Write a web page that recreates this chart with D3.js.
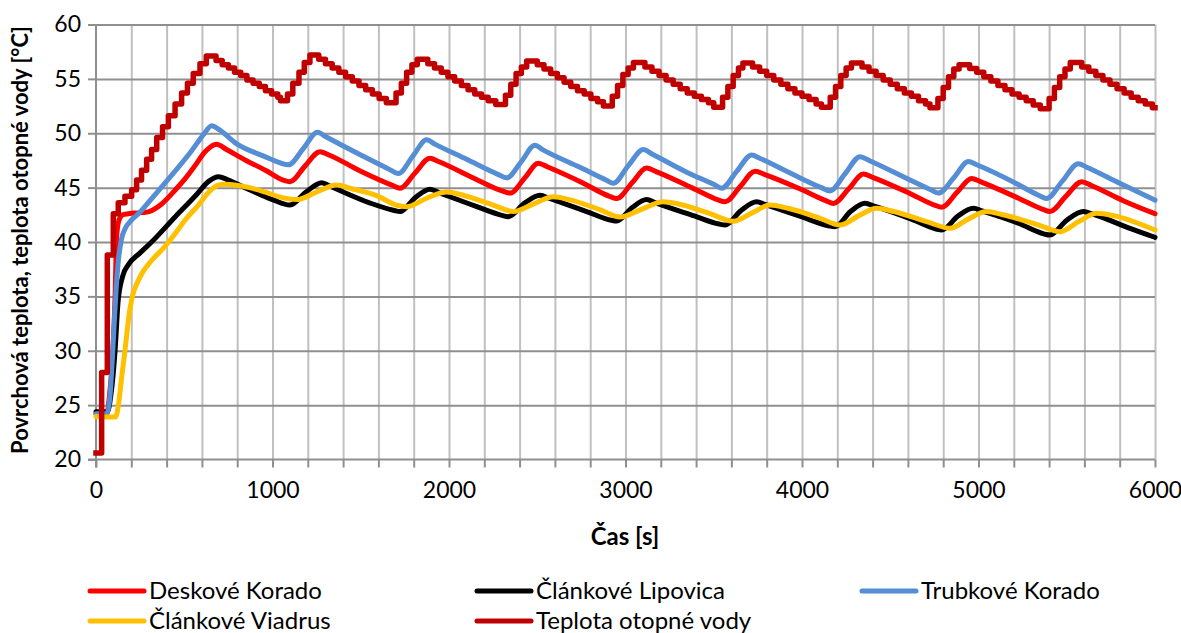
<!DOCTYPE html>
<html><head><meta charset="utf-8">
<script src="https://cdn.jsdelivr.net/npm/d3@7"></script>
<style>
html,body{margin:0;padding:0;background:#fff;}
svg{display:block;font-family:Lato,"Open Sans",sans-serif;}
</style></head>
<body><svg id="chart" width="1181" height="633"></svg>
<script>
// ---------- data ----------
const xTicks = [0, 1000, 2000, 3000, 4000, 5000, 6000];
const xMinorTicks = [0,200,400,600,800,1000,1200,1400,1600,1800,2000,2200,2400,2600,2800,3000,3200,3400,3600,3800,4000,4200,4400,4600,4800,5000,5200,5400,5600,5800,6000];
const yTicks = [20, 25, 30, 35, 40, 45, 50, 55, 60];
const xTitle = "Čas [s]";
const yTitle = "Povrchová teplota, teplota otopné vody [°C]";

const seriesNames = ["Deskové Korado", "Článkové Lipovica", "Trubkové Korado", "Článkové Viadrus", "Teplota otopné vody"];
const seriesColors = ["#ff0000", "#000000", "#558ed5", "#ffc000", "#c00000"];

const deskoveKorado = [[0,24.2],[60,24.2],[80,26.5],[96,30],[108,35],[117,40.5],[130,42.0],[150,42.5],[183,42.6],[260,42.7],[300,42.8],[372,43.5],[450,44.8],[504,45.8],[560,47.0],[618,48.3],[683,49.0],[740,48.5],[850,47.5],[960,46.6],[1060,45.7],[1099,45.55],[1185,47.0],[1269,48.3],[1320,48.0],[1500,46.5],[1680,45.2],[1722,44.95],[1810,46.4],[1892,47.7],[1940,47.4],[2150,45.8],[2300,44.7],[2346,44.5],[2430,45.9],[2506,47.25],[2560,46.9],[2750,45.5],[2910,44.2],[2950,44.0],[3040,45.5],[3120,46.8],[3170,46.5],[3400,44.8],[3520,43.9],[3564,43.7],[3650,45.1],[3734,46.5],[3790,46.2],[4000,44.8],[4135,43.8],[4178,43.55],[4265,44.9],[4348,46.25],[4400,45.95],[4620,44.4],[4750,43.4],[4791,43.2],[4880,44.6],[4961,45.85],[5010,45.55],[5230,44.0],[5365,43.0],[5405,42.8],[5495,44.2],[5585,45.55],[5640,45.2],[5820,43.8],[6000,42.6]];

const clankoveLipovica = [[0,24.4],[65,24.4],[85,26],[108,30],[125,34.5],[150,36.8],[183,37.9],[250,39.0],[315,40.0],[448,42.3],[561,44.2],[640,45.6],[693,46.0],[750,45.7],[844,45.0],[1000,43.9],[1099,43.4],[1190,44.6],[1279,45.45],[1330,45.1],[1550,43.6],[1690,42.9],[1722,42.8],[1810,44.1],[1892,44.85],[1950,44.5],[2150,43.3],[2300,42.45],[2336,42.33],[2430,43.6],[2516,44.3],[2570,44.0],[2780,42.8],[2920,42.0],[2950,41.93],[3040,43.2],[3120,43.9],[3170,43.6],[3390,42.4],[3530,41.65],[3564,41.56],[3655,42.9],[3743,43.7],[3790,43.45],[4000,42.3],[4150,41.5],[4187,41.4],[4275,42.8],[4357,43.56],[4410,43.3],[4620,42.1],[4760,41.2],[4791,41.1],[4885,42.4],[4971,43.1],[5020,42.85],[5230,41.7],[5370,40.75],[5405,40.64],[5500,42.0],[5594,42.8],[5650,42.55],[5850,41.3],[6000,40.43]];

const trubkoveKorado = [[0,24.2],[60,24.2],[80,26],[95,30],[108,34],[125,38],[145,40.3],[164,41.2],[200,42.0],[240,42.6],[300,43.7],[400,45.6],[542,48.4],[610,49.9],[655,50.7],[700,50.3],[800,49.0],[950,47.9],[1040,47.3],[1090,47.1],[1175,48.6],[1255,50.1],[1300,49.7],[1500,48.0],[1660,46.7],[1713,46.3],[1795,47.9],[1873,49.4],[1920,49.0],[2100,47.6],[2280,46.2],[2327,45.9],[2410,47.4],[2487,48.9],[2530,48.5],[2750,46.8],[2890,45.7],[2931,45.4],[3015,47.0],[3101,48.5],[3150,48.1],[3350,46.4],[3500,45.3],[3545,44.95],[3630,46.5],[3715,48.0],[3760,47.7],[3950,46.2],[4110,45.0],[4159,44.7],[4245,46.3],[4329,47.85],[4380,47.5],[4600,45.8],[4730,44.8],[4773,44.5],[4860,45.9],[4943,47.4],[4990,47.1],[5200,45.5],[5340,44.3],[5386,44.0],[5475,45.6],[5566,47.2],[5610,46.9],[5800,45.4],[6000,43.85]];

const clankoveViadrus = [[0,23.95],[60,23.9],[110,23.9],[127,25],[145,27.5],[164,30],[185,33],[206,35],[235,36.3],[267,37.3],[315,38.3],[391,39.6],[450,40.8],[504,42.0],[580,43.4],[640,44.6],[690,45.2],[731,45.3],[787,45.25],[870,45.0],[957,44.6],[1050,44.1],[1137,43.9],[1250,44.6],[1364,45.24],[1450,44.9],[1600,44.2],[1700,43.4],[1760,43.25],[1870,44.0],[1987,44.6],[2080,44.3],[2250,43.4],[2365,42.8],[2480,43.5],[2591,44.15],[2680,43.9],[2850,43.0],[2969,42.3],[3090,43.0],[3214,43.7],[3300,43.5],[3480,42.6],[3611,41.9],[3720,42.7],[3819,43.4],[3920,43.1],[4100,42.2],[4215,41.56],[4320,42.4],[4423,43.1],[4520,42.8],[4720,41.8],[4839,41.26],[4940,42.1],[5046,42.8],[5140,42.5],[5350,41.5],[5462,40.95],[5570,41.9],[5670,42.64],[5770,42.4],[6000,41.1]];

const teplotaVody = [[0,20.6],[32,28.0],[64,38.8],[98,42.6],[126,43.6],[164,44.2],[202,44.8],[230,45.7],[258,46.6],[287,47.6],[315,48.5],[344,49.6],[377,50.6],[410,51.6],[448,52.7],[485,53.7],[518,54.6],[551,55.5],[589,56.4],[625,57.1],[680,56.7],[715,56.3],[750,56.0],[785,55.6],[820,55.3],[855,54.9],[890,54.6],[925,54.3],[960,53.9],[995,53.6],[1030,53.3],[1045,53.0],
[1085,53.6],[1115,54.6],[1150,55.6],[1180,56.5],[1212,57.2],[1262,56.8],[1300,56.4],[1338,56.0],[1376,55.6],[1414,55.2],[1452,54.8],[1490,54.4],[1528,54.0],[1566,53.6],[1604,53.2],[1645,52.8],
[1700,53.7],[1730,54.6],[1760,55.6],[1790,56.3],[1820,56.8],[1880,56.4],[1918,56.0],[1956,55.6],[1994,55.2],[2032,54.8],[2070,54.4],[2108,54.0],[2146,53.6],[2184,53.3],[2222,53.0],[2265,52.65],
[2320,53.5],[2350,54.5],[2380,55.5],[2410,56.1],[2440,56.65],[2500,56.3],[2538,55.9],[2576,55.5],[2614,55.1],[2652,54.7],[2690,54.3],[2728,53.9],[2766,53.6],[2804,53.2],[2842,52.9],[2875,52.5],
[2925,53.4],[2955,54.4],[2985,55.4],[3015,56.0],[3045,56.5],[3110,56.1],[3150,55.7],[3190,55.3],[3230,54.9],[3270,54.5],[3310,54.1],[3350,53.7],[3390,53.4],[3430,53.1],[3470,52.8],[3500,52.4],
[3550,53.3],[3580,54.3],[3610,55.3],[3640,56.0],[3665,56.45],[3720,56.1],[3760,55.7],[3800,55.3],[3840,54.9],[3880,54.5],[3920,54.1],[3960,53.7],[4000,53.4],[4040,53.1],[4080,52.7],[4110,52.4],
[4160,53.3],[4190,54.3],[4220,55.3],[4250,56.0],[4280,56.45],[4340,56.1],[4380,55.7],[4420,55.3],[4460,54.9],[4500,54.5],[4540,54.1],[4580,53.7],[4620,53.4],[4660,53.0],[4700,52.7],[4725,52.35],
[4770,53.2],[4800,54.2],[4830,55.2],[4860,55.9],[4890,56.3],[4950,55.95],[4990,55.6],[5030,55.2],[5070,54.8],[5110,54.4],[5150,54.0],[5190,53.6],[5230,53.3],[5270,53.0],[5310,52.6],[5350,52.25],
[5400,53.2],[5430,54.2],[5460,55.2],[5490,55.9],[5520,56.5],[5585,56.1],[5625,55.7],[5665,55.3],[5705,54.9],[5745,54.5],[5785,54.1],[5825,53.7],[5865,53.3],[5905,53.0],[5945,52.7],[5985,52.35],[6000,52.35]];

const seriesData = [deskoveKorado, clankoveLipovica, trubkoveKorado, clankoveViadrus, teplotaVody];

// ---------- layout ----------
const svg = d3.select("#chart");
const mLeft = 96, mRight = 1155, mTop = 24.5, mBottom = 459.5;
const x = d3.scaleLinear().domain([0, 6000]).range([mLeft, mRight]);
const y = d3.scaleLinear().domain([20, 60]).range([mBottom, mTop]);
const FONT = "Lato, 'Open Sans', sans-serif";

// vertical gridlines
svg.append("g").attr("transform", `translate(0,${mBottom})`)
  .call(d3.axisBottom(x).tickValues(xMinorTicks.slice(1)).tickSize(-(mBottom - mTop)).tickFormat(""))
  .call(g => g.select(".domain").remove())
  .call(g => g.selectAll("line").attr("stroke", "#c0c0c0").attr("stroke-width", 2));

// horizontal gridlines
svg.append("g").attr("transform", `translate(${mLeft},0)`)
  .call(d3.axisLeft(y).tickValues(yTicks.slice(1)).tickSize(-(mRight - mLeft)).tickFormat(""))
  .call(g => g.select(".domain").remove())
  .call(g => g.selectAll("line").attr("stroke", "#8f8f8f").attr("stroke-width", 2));

// x axis
svg.append("g").attr("transform", `translate(0,${mBottom})`)
  .call(d3.axisBottom(x).tickValues(xMinorTicks).tickSize(8).tickPadding(14)
    .tickFormat(d => xTicks.includes(d) ? String(d) : ""))
  .call(g => g.select(".domain").attr("stroke", "#8f8f8f").attr("stroke-width", 2).attr("d", `M${mLeft-8},0H${mRight}`))
  .call(g => g.selectAll("line").attr("stroke", "#8f8f8f").attr("stroke-width", 2))
  .call(g => g.selectAll("text").attr("font-size", 23).attr("fill", "#000").attr("font-family", FONT));

// y axis
svg.append("g").attr("transform", `translate(${mLeft},0)`)
  .call(d3.axisLeft(y).tickValues(yTicks).tickSize(8).tickPadding(7))
  .call(g => g.select(".domain").attr("stroke", "#8f8f8f").attr("stroke-width", 2).attr("d", `M0,${mBottom+8}V${mTop}`))
  .call(g => g.selectAll("line").attr("stroke", "#8f8f8f").attr("stroke-width", 2))
  .call(g => g.selectAll("text").attr("font-size", 23).attr("fill", "#000").attr("font-family", FONT));

// series
seriesData.forEach((data, i) => {
  const isWater = i === 4;
  const line = d3.line().x(d => x(d[0])).y(d => y(d[1]))
    .curve(isWater ? d3.curveStepAfter : d3.curveMonotoneX);
  svg.append("path").datum(data)
    .attr("d", line)
    .attr("fill", "none")
    .attr("stroke", seriesColors[i])
    .attr("stroke-width", isWater ? 5.5 : 5)
    .attr("stroke-linejoin", "round")
    .attr("stroke-linecap", isWater ? "square" : "round");
});

// titles
svg.append("text").attr("x", 625).attr("y", 545).attr("text-anchor", "middle")
  .attr("font-size", 24).attr("font-weight", "bold").attr("font-family", FONT).text(xTitle);
svg.append("text").attr("transform", "translate(28,240) rotate(-90)").attr("text-anchor", "middle")
  .attr("font-size", 22).attr("font-weight", "bold").attr("font-family", FONT).text(yTitle);

// legend
const legendPos = [[90, 591], [477, 591], [862, 591], [90, 621], [477, 621]];
seriesNames.forEach((name, i) => {
  const [lx, ly] = legendPos[i];
  const g = svg.append("g");
  g.append("line").attr("x1", lx).attr("x2", lx + 54).attr("y1", ly).attr("y2", ly)
    .attr("stroke", seriesColors[i]).attr("stroke-width", 5).attr("stroke-linecap", "round");
  g.append("text").attr("x", lx + 59).attr("y", ly).attr("dy", "0.35em")
    .attr("font-size", 24).attr("font-family", FONT).attr("fill", "#000").text(name);
});
</script></body></html>
